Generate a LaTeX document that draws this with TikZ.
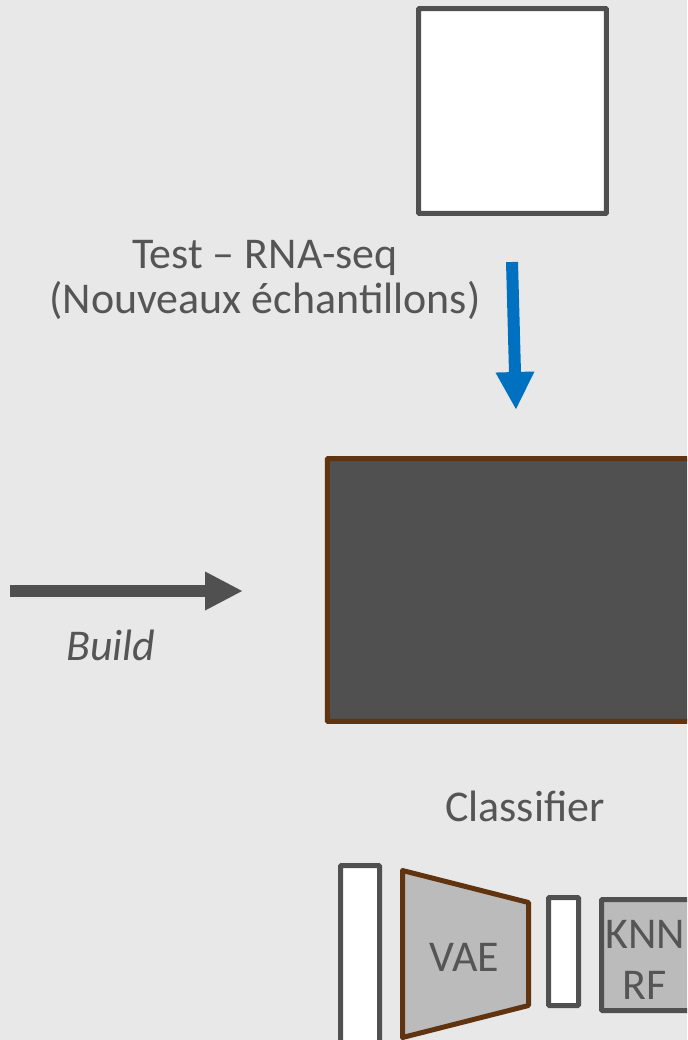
\documentclass[tikz,border=0pt]{standalone}
\usepackage{fontspec}
\setmainfont{Carlito}
\usetikzlibrary{arrows.meta}
\definecolor{bg}{RGB}{232,232,232}
\definecolor{dgray}{RGB}{80,80,80}
\definecolor{lgray}{RGB}{187,187,187}
\definecolor{brown}{RGB}{96,52,16}
\definecolor{blue}{RGB}{0,112,192}
\definecolor{txt}{RGB}{85,85,85}
\tikzset{
  box/.style={draw=dgray, line width=0.1cm, rounded corners=0.5pt, inner sep=0pt},
  lbl/.style={text=txt, font=\fontsize{25}{25.6}\selectfont, align=center, inner sep=0pt},
  fat/.style={line width=0.24cm, -{Triangle[length=0.76cm, width=0.72cm]}}
}
\begin{document}
\begin{tikzpicture}[x=0.02cm, y=-0.02cm]
  \fill[bg] (0,0) rectangle (687,1040);
  \clip (0,0) rectangle (687,1040);
  \useasboundingbox (0,0) rectangle (687,1040);
  \node[box, fill=white, minimum width=3.76cm, minimum height=4.1cm] (input) at (512.5,111) {};
  \node[lbl] (test) at (265,280) {Test – RNA-seq\\(Nouveaux échantillons)};
  \coordinate (bstart) at (512,262);
  \coordinate (bend) at (516,410);
  \draw[fat, draw=blue, fill=blue] (bstart) -- (bend);
  \node[box, draw=brown, fill=dgray, minimum width=9.46cm, minimum height=5.26cm] (model) at (563.75,590) {};
  \coordinate (gstart) at (10,591);
  \coordinate (gend) at (243,591);
  \draw[fat, draw=dgray, fill=dgray] (gstart) -- (gend);
  \node[lbl, font=\fontsize{25}{25.6}\selectfont\itshape] (build) at (111,645) {Build};
  \node[lbl] (clf) at (525,806) {Classifier};
  \node[box, fill=white, minimum width=0.78cm, minimum height=4.69cm] (inbar) at (360,982.75) {};
  \draw[draw=brown, fill=lgray, line width=0.1cm, line join=round]
    (402.5,870.5) -- (528.5,902.5) -- (528.5,1005.5) -- (402.5,1037.5) -- cycle;
  \node[lbl] (vae) at (464,957) {VAE};
  \node[box, fill=white, minimum width=0.6cm, minimum height=2.16cm] (latent) at (563.5,951.5) {};
  \node[box, fill=lgray, minimum width=3.17cm, minimum height=2.22cm] (knnbox) at (680.75,955) {};
  \node[lbl, font=\fontsize{25}{29}\selectfont] (knn) at (645,960) {KNN\\RF};
\end{tikzpicture}
\end{document}
